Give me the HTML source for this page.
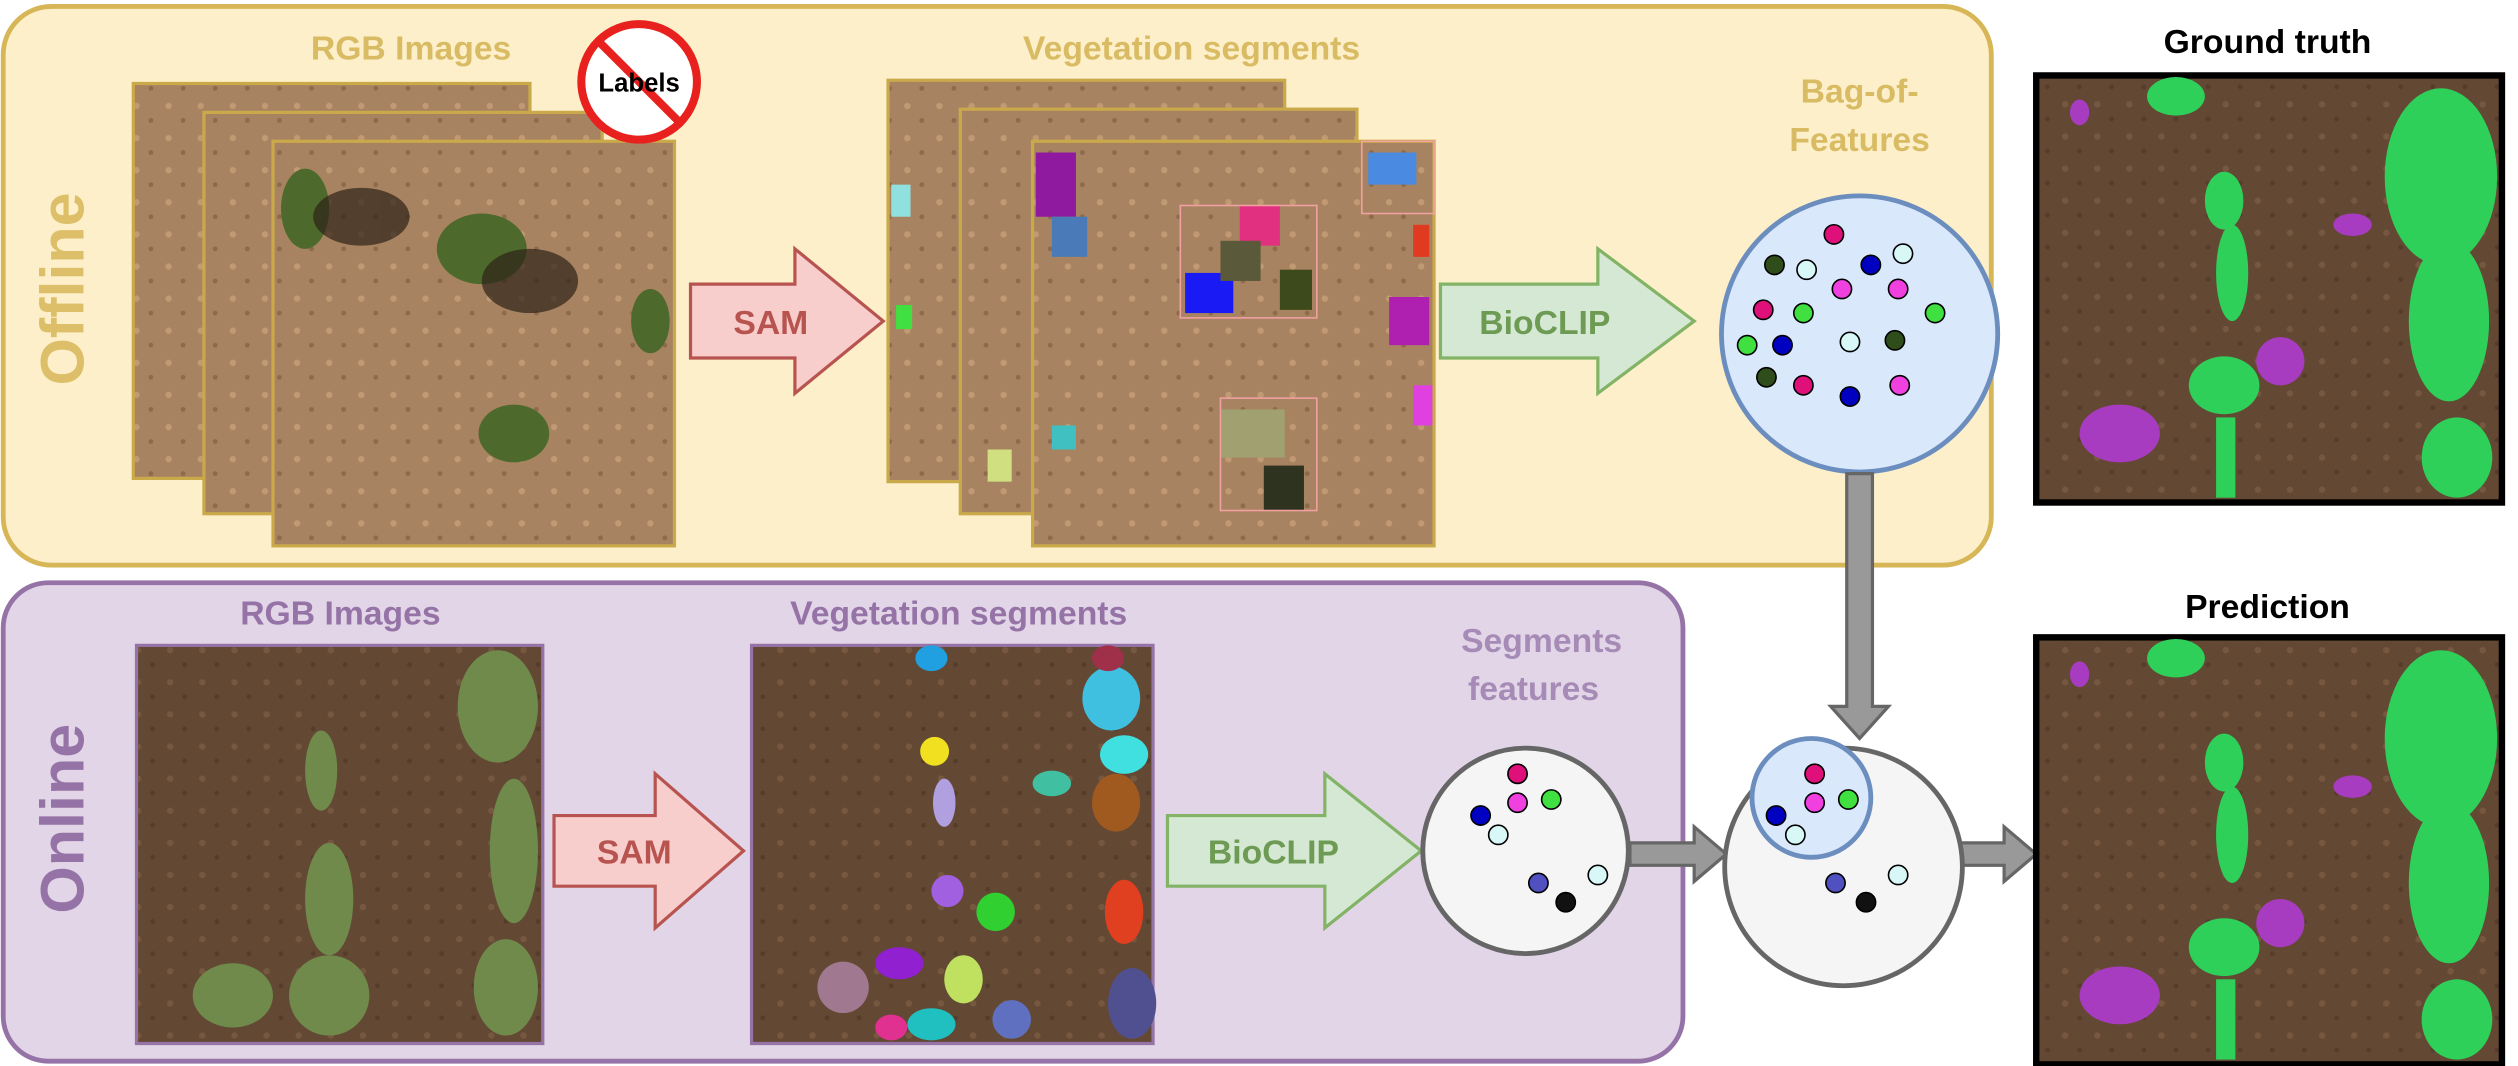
<!DOCTYPE html>
<html><head><meta charset="utf-8"><style>
html,body{margin:0;padding:0;background:#fff}
svg{display:block}
text{font-family:"Liberation Sans",sans-serif;font-weight:bold}
</style></head><body>
<svg width="2518" height="1066" viewBox="0 0 1568 664" preserveAspectRatio="none">
<defs>
<pattern id="soilL" width="20" height="20" patternUnits="userSpaceOnUse"><rect width="20" height="20" fill="#a88361"/><circle cx="5" cy="6" r="2" fill="#c19a73"/><circle cx="14" cy="15" r="1.5" fill="#8c6a4b"/></pattern>
<pattern id="soilD" width="20" height="20" patternUnits="userSpaceOnUse"><rect width="20" height="20" fill="#634834"/><circle cx="6" cy="5" r="2" fill="#765840"/><circle cx="15" cy="14" r="1.5" fill="#553c2b"/></pattern>
</defs>

<!-- Offline panel -->
<rect x="2" y="4" width="1238" height="348" rx="30" fill="#fdefc9" stroke="#d6b656" stroke-width="3"/>
<text x="52" y="180" font-size="38" fill="#dcbf68" text-anchor="middle" transform="rotate(-90 52 180)">Offline</text>
<text x="256" y="37" font-size="21" fill="#d8bb63" text-anchor="middle">RGB Images</text>
<g>
<rect x="83" y="52" width="247" height="246" fill="url(#soilL)" stroke="#c9a94a" stroke-width="2"/>
<rect x="127" y="70" width="248" height="250" fill="url(#soilL)" stroke="#c9a94a" stroke-width="2"/>
<rect x="170" y="88" width="250" height="252" fill="url(#soilL)" stroke="#c9a94a" stroke-width="2"/>
<g fill="#4d6a2c"><ellipse cx="300" cy="155" rx="28" ry="22"/><ellipse cx="320" cy="270" rx="22" ry="18"/><ellipse cx="190" cy="130" rx="15" ry="25"/><ellipse cx="405" cy="200" rx="12" ry="20"/></g>
<g fill="#2e2218" opacity="0.7"><ellipse cx="330" cy="175" rx="30" ry="20"/><ellipse cx="225" cy="135" rx="30" ry="18"/></g>
</g>
<g>
<circle cx="398" cy="51" r="36" fill="#fff" stroke="#e8201e" stroke-width="5"/>
<line x1="373" y1="26" x2="423" y2="76" stroke="#e8201e" stroke-width="5"/>
<text x="398" y="57" font-size="16" fill="#000" text-anchor="middle">Labels</text>
</g>
<g>
<polygon points="430,177 495,177 495,155 550,200 495,245 495,223 430,223" fill="#f8cecc" stroke="#b85450" stroke-width="2"/>
<text x="480" y="208" font-size="21" fill="#b85450" text-anchor="middle">SAM</text>
</g>
<text x="742" y="37" font-size="21" fill="#d8bb63" text-anchor="middle">Vegetation segments</text>
<g>
<rect x="553" y="50" width="247" height="250" fill="url(#soilL)" stroke="#c9a94a" stroke-width="2"/>
<rect x="598" y="68" width="247" height="252" fill="url(#soilL)" stroke="#c9a94a" stroke-width="2"/>
<rect x="643" y="88" width="250" height="252" fill="url(#soilL)" stroke="#c9a94a" stroke-width="2"/>
<g>
<rect x="645" y="95" width="25" height="40" fill="#8f1a9f"/><rect x="655" y="135" width="22" height="25" fill="#4a7ab8"/>
<rect x="738" y="170" width="30" height="25" fill="#1a1af5"/><rect x="772" y="128" width="25" height="25" fill="#e0307f"/>
<rect x="760" y="150" width="25" height="25" fill="#5a5a3a"/><rect x="797" y="168" width="20" height="25" fill="#3c4a1c"/>
<rect x="852" y="95" width="30" height="20" fill="#4a8ae0"/><rect x="865" y="185" width="25" height="30" fill="#b020b0"/>
<rect x="760" y="255" width="40" height="30" fill="#a0a070"/><rect x="787" y="290" width="25" height="28" fill="#2e3320"/>
<rect x="880" y="240" width="12" height="25" fill="#e040e0"/><rect x="655" y="265" width="15" height="15" fill="#40c0c0"/>
<rect x="555" y="115" width="12" height="20" fill="#90e0e0"/><rect x="558" y="190" width="10" height="15" fill="#40e040"/>
<rect x="615" y="280" width="15" height="20" fill="#d0e080"/><rect x="880" y="140" width="10" height="20" fill="#e03a20"/>
</g>
<g fill="none" stroke="#f0a0a0" stroke-width="1"><rect x="735" y="128" width="85" height="70"/><rect x="760" y="248" width="60" height="70"/><rect x="848" y="88" width="45" height="45"/></g>
</g>
<g>
<polygon points="897,177 995,177 995,155 1055,200 995,245 995,223 897,223" fill="#d5e8d4" stroke="#82b366" stroke-width="2"/>
<text x="962" y="208" font-size="21" fill="#6d9b53" text-anchor="middle">BioCLIP</text>
</g>
<text x="1158" y="64" font-size="21" fill="#d8bb63" text-anchor="middle">Bag-of-</text>
<text x="1158" y="94" font-size="21" fill="#d8bb63" text-anchor="middle">Features</text>
<circle cx="1158" cy="208" r="86" fill="#dae8fc" stroke="#6c8ebf" stroke-width="3"/>
<g stroke="#000" stroke-width="1">
<circle cx="1142" cy="146" r="6" fill="#e0107a"/><circle cx="1105" cy="165" r="6" fill="#2e4d1a"/><circle cx="1125" cy="168" r="6" fill="#d8f8f8"/>
<circle cx="1165" cy="165" r="6" fill="#0000c0"/><circle cx="1185" cy="158" r="6" fill="#d8f8f8"/><circle cx="1147" cy="180" r="6" fill="#f040e0"/>
<circle cx="1182" cy="180" r="6" fill="#f040e0"/><circle cx="1098" cy="193" r="6" fill="#e0107a"/><circle cx="1123" cy="195" r="6" fill="#40e040"/>
<circle cx="1205" cy="195" r="6" fill="#40e040"/><circle cx="1088" cy="215" r="6" fill="#40e040"/><circle cx="1110" cy="215" r="6" fill="#0000c0"/>
<circle cx="1152" cy="213" r="6" fill="#d8f8f8"/><circle cx="1180" cy="212" r="6" fill="#2e4d1a"/><circle cx="1100" cy="235" r="6" fill="#2e4d1a"/>
<circle cx="1123" cy="240" r="6" fill="#e0107a"/><circle cx="1152" cy="247" r="6" fill="#0000c0"/><circle cx="1183" cy="240" r="6" fill="#f040e0"/>
</g>

<!-- Ground truth -->
<text x="1412" y="33" font-size="21" fill="#000" text-anchor="middle">Ground truth</text>
<g>
<rect x="1268" y="47" width="290" height="266" fill="url(#soilD)" stroke="#000" stroke-width="4"/>
<g fill="#2ed05a"><ellipse cx="1385" cy="125" rx="12" ry="18"/><ellipse cx="1390" cy="170" rx="10" ry="30"/><ellipse cx="1385" cy="240" rx="22" ry="18"/><rect x="1380" y="260" width="12" height="50"/><ellipse cx="1520" cy="110" rx="35" ry="55"/><ellipse cx="1525" cy="200" rx="25" ry="50"/><ellipse cx="1530" cy="285" rx="22" ry="25"/><ellipse cx="1355" cy="60" rx="18" ry="12"/></g>
<g fill="#a83cc0"><ellipse cx="1320" cy="270" rx="25" ry="18"/><ellipse cx="1420" cy="225" rx="15" ry="15"/><ellipse cx="1465" cy="140" rx="12" ry="7"/><ellipse cx="1295" cy="70" rx="6" ry="8"/></g>
</g>

<!-- Online panel -->
<rect x="2" y="363" width="1046" height="298" rx="28" fill="#e1d5e7" stroke="#9673a6" stroke-width="3"/>
<text x="52" y="510" font-size="38" fill="#9673a6" text-anchor="middle" transform="rotate(-90 52 510)">Online</text>
<text x="212" y="389" font-size="21" fill="#9673a6" text-anchor="middle">RGB Images</text>
<g>
<rect x="85" y="402" width="253" height="248" fill="url(#soilD)" stroke="#9673a6" stroke-width="2"/>
<g fill="#6f8a4a"><ellipse cx="200" cy="480" rx="10" ry="25"/><ellipse cx="205" cy="560" rx="15" ry="35"/><ellipse cx="205" cy="620" rx="25" ry="25"/><ellipse cx="310" cy="440" rx="25" ry="35"/><ellipse cx="320" cy="530" rx="15" ry="45"/><ellipse cx="315" cy="615" rx="20" ry="30"/><ellipse cx="145" cy="620" rx="25" ry="20"/></g>
</g>
<g>
<polygon points="345,508 408,508 408,482 463,530 408,578 408,552 345,552" fill="#f8cecc" stroke="#b85450" stroke-width="2"/>
<text x="395" y="538" font-size="21" fill="#b85450" text-anchor="middle">SAM</text>
</g>
<text x="597" y="389" font-size="21" fill="#9673a6" text-anchor="middle">Vegetation segments</text>
<g>
<rect x="468" y="402" width="250" height="248" fill="url(#soilD)" stroke="#9673a6" stroke-width="2"/>
<circle cx="582" cy="468" r="9" fill="#f0e020"/><ellipse cx="588" cy="500" rx="7" ry="15" fill="#b0a0e0"/><ellipse cx="580" cy="410" rx="10" ry="8" fill="#20a0e0"/>
<ellipse cx="692" cy="435" rx="18" ry="20" fill="#40c0e0"/><ellipse cx="700" cy="470" rx="15" ry="12" fill="#40e0e0"/><ellipse cx="695" cy="500" rx="15" ry="18" fill="#a05a20"/>
<ellipse cx="690" cy="410" rx="10" ry="8" fill="#a0304a"/><ellipse cx="655" cy="488" rx="12" ry="8" fill="#40c0a0"/><ellipse cx="700" cy="568" rx="12" ry="20" fill="#e04020"/>
<ellipse cx="705" cy="625" rx="15" ry="22" fill="#505090"/><ellipse cx="620" cy="568" rx="12" ry="12" fill="#30d030"/><ellipse cx="590" cy="555" rx="10" ry="10" fill="#a060e0"/>
<ellipse cx="560" cy="600" rx="15" ry="10" fill="#9020d0"/><ellipse cx="600" cy="610" rx="12" ry="15" fill="#c0e060"/><ellipse cx="525" cy="615" rx="16" ry="16" fill="#a07890"/>
<ellipse cx="580" cy="638" rx="15" ry="10" fill="#20c0c0"/><ellipse cx="630" cy="635" rx="12" ry="12" fill="#6070c0"/><ellipse cx="555" cy="640" rx="10" ry="8" fill="#e03090"/>
</g>
<g>
<polygon points="727,508 825,508 825,482 885,530 825,578 825,552 727,552" fill="#d5e8d4" stroke="#82b366" stroke-width="2"/>
<text x="793" y="538" font-size="21" fill="#6d9b53" text-anchor="middle">BioCLIP</text>
</g>
<text x="960" y="406" font-size="21" fill="#a68bb6" text-anchor="middle">Segments</text>
<text x="955" y="436" font-size="21" fill="#a68bb6" text-anchor="middle">features</text>
<circle cx="950" cy="530" r="64" fill="#f5f5f5" stroke="#666" stroke-width="3"/>
<g stroke="#000" stroke-width="1">
<circle cx="945" cy="482" r="6" fill="#e0107a"/><circle cx="945" cy="500" r="6" fill="#f040e0"/><circle cx="966" cy="498" r="6" fill="#40e040"/>
<circle cx="922" cy="508" r="6" fill="#0000c0"/><circle cx="933" cy="520" r="6" fill="#d8f8f8"/><circle cx="995" cy="545" r="6" fill="#d8f8f8"/>
<circle cx="958" cy="550" r="6" fill="#5050c0"/><circle cx="975" cy="562" r="6" fill="#111"/>
</g>

<!-- connector arrows -->
<g fill="#999" stroke="#666" stroke-width="2">
<polygon points="1150,295 1166,295 1166,440 1176,440 1158,460 1140,440 1150,440"/>
<polygon points="1015,525 1055,525 1055,515 1075,532 1055,549 1055,539 1015,539"/>
<polygon points="1213,525 1248,525 1248,515 1268,532 1248,549 1248,539 1213,539"/>
</g>

<circle cx="1148" cy="540" r="74" fill="#f5f5f5" stroke="#666" stroke-width="3"/>
<circle cx="1128" cy="497" r="37" fill="#dae8fc" stroke="#6c8ebf" stroke-width="3"/>
<g stroke="#000" stroke-width="1">
<circle cx="1130" cy="482" r="6" fill="#e0107a"/><circle cx="1130" cy="500" r="6" fill="#f040e0"/><circle cx="1151" cy="498" r="6" fill="#40e040"/>
<circle cx="1106" cy="508" r="6" fill="#0000c0"/><circle cx="1118" cy="520" r="6" fill="#d8f8f8"/><circle cx="1182" cy="545" r="6" fill="#d8f8f8"/>
<circle cx="1143" cy="550" r="6" fill="#5050c0"/><circle cx="1162" cy="562" r="6" fill="#111"/>
</g>

<!-- Prediction -->
<text x="1412" y="385" font-size="21" fill="#000" text-anchor="middle">Prediction</text>
<g>
<rect x="1268" y="397" width="290" height="266" fill="url(#soilD)" stroke="#000" stroke-width="4"/>
<g fill="#2ed05a"><ellipse cx="1385" cy="475" rx="12" ry="18"/><ellipse cx="1390" cy="520" rx="10" ry="30"/><ellipse cx="1385" cy="590" rx="22" ry="18"/><rect x="1380" y="610" width="12" height="50"/><ellipse cx="1520" cy="460" rx="35" ry="55"/><ellipse cx="1525" cy="550" rx="25" ry="50"/><ellipse cx="1530" cy="635" rx="22" ry="25"/><ellipse cx="1355" cy="410" rx="18" ry="12"/></g>
<g fill="#a83cc0"><ellipse cx="1320" cy="620" rx="25" ry="18"/><ellipse cx="1420" cy="575" rx="15" ry="15"/><ellipse cx="1465" cy="490" rx="12" ry="7"/><ellipse cx="1295" cy="420" rx="6" ry="8"/></g>
</g>
</svg>
</body></html>
